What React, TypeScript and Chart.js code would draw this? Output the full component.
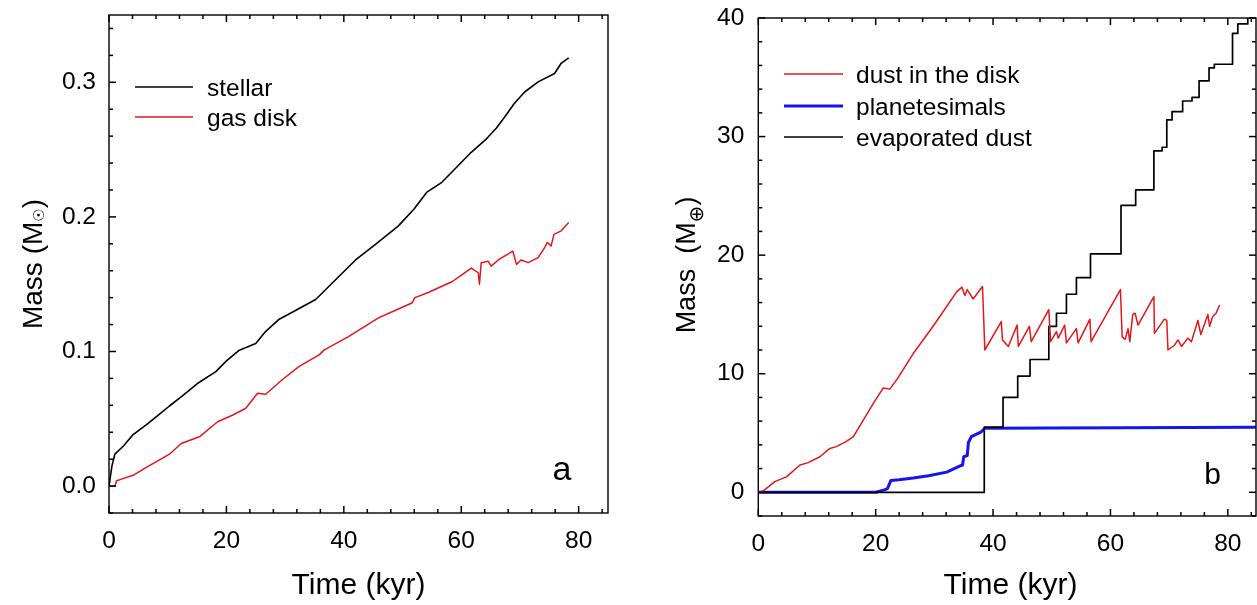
import React, { useEffect, useRef } from "react";
import { Chart, registerables } from "chart.js";

Chart.register(...registerables);

const FONT = "'Liberation Sans', Arial, 'DejaVu Sans', sans-serif";

// ---------- Panel a : stellar and gas-disk mass ----------
const stellarTime = [0, 0.5, 1.0, 2.5, 4.0, 6.5, 8.5, 10.3, 12.5, 15.0, 18.2, 20.0, 22.2, 25.0, 26.7, 29.0, 32.0, 35.2, 42.0, 45.5, 49.3, 52.0, 54.1, 56.7, 59.0, 61.7, 64.3, 66.0, 67.4, 69.0, 70.8, 73.1, 75.9, 77.0, 78.3];
const stellarMass = [0, 0.015, 0.0237, 0.030, 0.0378, 0.046, 0.053, 0.0595, 0.067, 0.076, 0.085, 0.093, 0.101, 0.106, 0.115, 0.124, 0.131, 0.1386, 0.168, 0.180, 0.1933, 0.206, 0.2182, 0.2257, 0.236, 0.248, 0.258, 0.266, 0.2742, 0.284, 0.2928, 0.3003, 0.3065, 0.314, 0.3182];

const gasTime = [0, 1.0, 1.3, 2.0, 4.1, 6.0, 8.0, 10.3, 12.3, 15.4, 18.5, 21.1, 23.3, 25.3, 26.7, 29.5, 32.4, 35.8, 36.6, 40.8, 45.9, 49.0, 51.6, 52.1, 54.5, 56.7, 58.5, 60.1, 61.7, 62.9, 63.1, 63.4, 64.6, 65.1, 66.3, 68.8, 69.4, 70.2, 71.4, 73.1, 74.2, 74.7, 75.3, 75.8, 77.0, 78.3];
const gasMass = [0, 0, 0.004, 0.005, 0.008, 0.013, 0.018, 0.0237, 0.0316, 0.0366, 0.0478, 0.0528, 0.0578, 0.069, 0.0682, 0.079, 0.089, 0.0975, 0.101, 0.111, 0.125, 0.131, 0.136, 0.140, 0.144, 0.1485, 0.152, 0.157, 0.162, 0.1585, 0.150, 0.166, 0.167, 0.1634, 0.168, 0.1746, 0.1647, 0.168, 0.166, 0.1697, 0.1772, 0.181, 0.1784, 0.187, 0.1896, 0.1958];

const panelAXTicks = [0, 20, 40, 60, 80];
const panelAYTicks = [0, 0.1, 0.2, 0.3];

// ---------- Panel b : dust, planetesimals, evaporated dust ----------
const dustTime = [0, 0.8, 2.8, 4.8, 7.1, 8.5, 10.5, 12.2, 13.3, 15.0, 16.2, 19.6, 21.3, 22.4, 23.6, 26.4, 29.2, 30.9, 33.8, 34.7, 35.2, 35.6, 36.6, 38.2, 38.6, 41.4, 41.6, 42.6, 44.1, 44.3, 46.2, 46.5, 49.5, 49.8, 50.8, 51.1, 52.2, 52.5, 54.2, 54.5, 56.5, 56.7, 61.7, 62.0, 62.5, 63.0, 63.3, 63.8, 64.2, 64.7, 67.4, 67.5, 69.2, 69.6, 69.8, 70.9, 71.5, 72.1, 73.2, 73.8, 74.9, 75.4, 76.6, 76.9, 77.4, 78.0, 78.6];
const dustMass = [0, 0.1, 0.9, 1.3, 2.3, 2.5, 3.0, 3.7, 3.85, 4.3, 4.7, 7.5, 8.8, 8.7, 9.5, 11.7, 13.6, 14.8, 16.9, 17.3, 16.6, 17.1, 16.3, 17.35, 12.0, 14.4, 12.85, 12.3, 14.1, 12.3, 14.0, 12.7, 15.4, 12.7, 13.55, 13.0, 14.1, 12.6, 13.8, 12.6, 14.6, 12.7, 17.1, 13.1, 12.9, 13.8, 12.7, 15.0, 15.1, 14.1, 16.5, 13.4, 14.6, 14.5, 12.0, 12.4, 12.85, 12.3, 13.0, 12.7, 14.5, 13.3, 15.0, 14.0, 14.8, 15.1, 15.8];

const planTime = [0, 20.0, 21.5, 22.0, 22.6, 24.0, 26.4, 29.0, 32.1, 34.3, 34.8, 35.0, 35.6, 35.8, 36.3, 37.2, 38.0, 38.6, 50.0, 84.8];
const planMass = [0, 0, 0.2, 0.3, 1.0, 1.05, 1.2, 1.4, 1.7, 2.2, 2.3, 3.0, 3.1, 4.2, 4.7, 4.9, 5.1, 5.4, 5.42, 5.48];

const evapTime = [0, 38.5, 41.7, 44.2, 46.3, 49.5, 50.8, 52.5, 54.2, 56.6, 61.8, 64.3, 67.4, 68.8, 69.6, 70.5, 72.3, 73.9, 75.1, 76.8, 77.7, 80.8, 81.7, 83.4, 84.8];
const evapMass = [0, 5.5, 8.0, 9.8, 11.2, 14.0, 15.1, 16.7, 18.1, 20.1, 24.2, 25.5, 28.8, 29.1, 31.4, 32.1, 33.0, 33.3, 34.7, 35.8, 36.1, 38.7, 39.5, 40.5, 40.5];

const panelBXTicks = [0, 20, 40, 60, 80];
const panelBYTicks = [0, 10, 20, 30, 40];

const RED = "#e5161b";
const BLUE = "#1414f0";
const BLACK = "#000000";

const pts = (xs: number[], ys: number[]) => xs.map((x, i) => ({ x, y: ys[i] }));

function makeDecor(o: any) {
  return {
    id: "decor",
    afterDraw(chart: any) {
      const ctx: CanvasRenderingContext2D = chart.ctx;
      const a = chart.chartArea;
      const xs = chart.scales.x;
      const ys = chart.scales.y;
      ctx.save();
      ctx.strokeStyle = "#000000";
      ctx.lineWidth = 1.5;
      const segs: number[][] = [];
      const nx = Math.floor(o.xMax / o.xMinor + 1e-6);
      for (let i = 0; i <= nx; i++) {
        const px = xs.getPixelForValue(i * o.xMinor);
        const len = i % o.xEvery === 0 ? 7 : 4;
        segs.push([px, a.bottom, px, a.bottom - len]);
        segs.push([px, a.top, px, a.top + len]);
      }
      const y0 = Math.ceil(o.yMin / o.yMinor - 1e-6);
      const y1 = Math.floor(o.yMax / o.yMinor + 1e-6);
      for (let i = y0; i <= y1; i++) {
        const py = ys.getPixelForValue(i * o.yMinor);
        const len = Math.abs(i) % o.yEvery === 0 ? 7 : 4;
        segs.push([a.left, py, a.left + len, py]);
        if (o.rightTicks) segs.push([a.right, py, a.right - len, py]);
      }
      for (const s of segs) {
        ctx.beginPath();
        ctx.moveTo(s[0], s[1]);
        ctx.lineTo(s[2], s[3]);
        ctx.stroke();
      }
      ctx.lineWidth = 1.4;
      ctx.strokeRect(a.left, a.top, a.right - a.left, a.bottom - a.top);

      // legend
      ctx.textAlign = "left";
      ctx.textBaseline = "alphabetic";
      ctx.fillStyle = "#000";
      ctx.font = `24.5px ${FONT}`;
      for (const it of o.legend) {
        ctx.strokeStyle = it.color;
        ctx.lineWidth = it.width;
        ctx.beginPath();
        ctx.moveTo(o.legendX1, it.y);
        ctx.lineTo(o.legendX2, it.y);
        ctx.stroke();
        ctx.fillText(it.label, o.legendTextX, it.y + 8.5);
      }

      // panel letter
      ctx.font = `${o.letterSize}px ${FONT}`;
      ctx.textAlign = "center";
      ctx.fillText(o.letter, o.letterX, o.letterY);

      // x title
      ctx.font = `30px ${FONT}`;
      ctx.fillText(o.xTitle, o.xTitleX, 593.5);

      // y title with subscript symbol
      ctx.translate(o.yTitleX, o.yTitleY);
      ctx.rotate(-Math.PI / 2);
      ctx.textAlign = "left";
      const mainFont = `${o.yTitleSize}px ${FONT}`;
      const subFont = `${o.subSize}px 'DejaVu Sans', ${FONT}`;
      ctx.font = mainFont;
      const w1 = ctx.measureText(o.yTitlePre).width;
      const w3 = ctx.measureText(")").width;
      ctx.font = subFont;
      const w2 = ctx.measureText(o.subSym).width;
      let x = -(w1 + w2 + w3) / 2;
      ctx.font = mainFont;
      ctx.fillText(o.yTitlePre, x, 0);
      x += w1;
      ctx.font = subFont;
      ctx.fillText(o.subSym, x, o.subShift);
      x += w2;
      ctx.font = mainFont;
      ctx.fillText(")", x, 0);
      ctx.restore();
    },
  };
}

const zeroPad = (s: any) => {
  s.paddingTop = 0;
  s.paddingBottom = 0;
  s.paddingLeft = 0;
  s.paddingRight = 0;
};

function makeConfig(p: any) {
  const decor = { ...p.decor, xMax: p.xMax, yMin: p.yMin, yMax: p.yMax };
  return {
    type: "line",
    data: { datasets: p.datasets },
    plugins: [makeDecor(decor)],
    options: {
      responsive: false,
      animation: false,
      devicePixelRatio: 1,
      layout: { padding: { left: 0, top: p.top, right: p.right, bottom: 0 } },
      elements: { point: { radius: 0 }, line: { tension: 0, borderJoinStyle: "round" } },
      plugins: { legend: { display: false }, tooltip: { enabled: false } },
      scales: {
        x: {
          type: "linear",
          min: 0,
          max: p.xMax,
          afterFit: (s: any) => { s.height = 605 - p.bottom; zeroPad(s); },
          afterBuildTicks: (s: any) => { s.ticks = p.xTicks.map((v: number) => ({ value: v })); },
          grid: { display: false, drawTicks: false },
          border: { display: false },
          ticks: { padding: 14, color: "#000", font: { family: FONT, size: 24.5 }, callback: (v: number) => String(v) },
        },
        y: {
          type: "linear",
          min: p.yMin,
          max: p.yMax,
          afterFit: (s: any) => { s.width = p.left; zeroPad(s); },
          afterBuildTicks: (s: any) => { s.ticks = p.yTicks.map((v: number) => ({ value: v })); },
          grid: { display: false, drawTicks: false },
          border: { display: false },
          ticks: { padding: p.yPad, color: "#000", font: { family: FONT, size: 24.5 }, callback: p.yFmt },
        },
      },
    },
  };
}

const configA = () =>
  makeConfig({
    top: 15, right: 22, left: 109, bottom: 513,
    xMax: 85, yMin: -0.02, yMax: 0.35,
    xTicks: panelAXTicks, yTicks: panelAYTicks, yPad: 13,
    yFmt: (v: number) => v.toFixed(1),
    datasets: [
      { label: "stellar", data: pts(stellarTime, stellarMass), borderColor: BLACK, borderWidth: 1.6 },
      { label: "gas disk", data: pts(gasTime, gasMass), borderColor: RED, borderWidth: 1.5 },
    ],
    decor: {
      xMinor: 4, xEvery: 5, yMinor: 0.02, yEvery: 5, rightTicks: false,
      legendX1: 135, legendX2: 193, legendTextX: 207,
      legend: [
        { label: "stellar", color: BLACK, width: 1.5, y: 87 },
        { label: "gas disk", color: RED, width: 1.5, y: 117 },
      ],
      letter: "a", letterSize: 34, letterX: 562, letterY: 480,
      xTitle: "Time (kyr)", xTitleX: 358.5,
      yTitleX: 42, yTitleY: 264, yTitleSize: 28, yTitlePre: "Mass (M", subSym: "\u2609", subSize: 15, subShift: 2,
    },
  });

const configB = () =>
  makeConfig({
    top: 18, right: 14, left: 118.3, bottom: 516,
    xMax: 84.8, yMin: -2, yMax: 40,
    xTicks: panelBXTicks, yTicks: panelBYTicks, yPad: 14,
    yFmt: (v: number) => String(v),
    datasets: [
      { label: "dust in the disk", data: pts(dustTime, dustMass), borderColor: RED, borderWidth: 1.5, order: 0 },
      { label: "planetesimals", data: pts(planTime, planMass), borderColor: BLUE, borderWidth: 3, order: 2 },
      { label: "evaporated dust", data: pts(evapTime, evapMass), borderColor: BLACK, borderWidth: 1.7, stepped: "before", order: 1 },
    ],
    decor: {
      xMinor: 4, xEvery: 5, yMinor: 2, yEvery: 5, rightTicks: true,
      legendX1: 144, legendX2: 203, legendTextX: 216,
      legend: [
        { label: "dust in the disk", color: RED, width: 1.5, y: 74 },
        { label: "planetesimals", color: BLUE, width: 3, y: 106 },
        { label: "evaporated dust", color: BLACK, width: 1.5, y: 137 },
      ],
      letter: "b", letterSize: 30, letterX: 572.5, letterY: 484,
      xTitle: "Time (kyr)", xTitleX: 370.5,
      yTitleX: 55, yTitleY: 265, yTitleSize: 27, yTitlePre: "Mass  (M", subSym: "\u2295", subSize: 20, subShift: 8,
    },
  });

function Panel({ make, left }: { make: () => any; left: number }) {
  const ref = useRef<HTMLCanvasElement>(null);
  useEffect(() => {
    const chart = new Chart(ref.current as HTMLCanvasElement, make());
    return () => chart.destroy();
  }, []);
  return (
    <canvas
      ref={ref}
      width={630}
      height={605}
      style={{ position: "absolute", left, top: 0, width: 630, height: 605 }}
    />
  );
}

export default function App() {
  return (
    <div style={{ position: "fixed", left: 0, top: 0, width: 1257, height: 605, overflow: "hidden", background: "#fff" }}>
      <Panel make={configA} left={0} />
      <Panel make={configB} left={640} />
    </div>
  );
}
